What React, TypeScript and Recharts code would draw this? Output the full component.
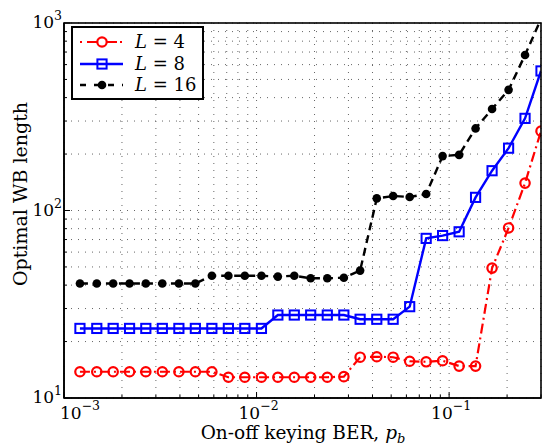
import React from 'react';
import { LineChart, Line, XAxis, YAxis, CartesianGrid } from 'recharts';

// On-off keying BER values (x)
const berValues = [
  0.00121, 0.00148, 0.0018, 0.00219, 0.00266, 0.00324, 0.00395, 0.00481, 0.00586,
  0.00714, 0.00869, 0.0106, 0.0129, 0.0157, 0.0191, 0.0233, 0.0284, 0.0345,
  0.0421, 0.0512, 0.0624, 0.076, 0.0925, 0.1127, 0.1372, 0.1671, 0.2036, 0.2479, 0.3,
];
// Optimal WB length, L = 4
const wbL4 = [
  13.8, 13.8, 13.8, 13.8, 13.8, 13.8, 13.8, 13.8, 13.8,
  12.9, 12.9, 12.9, 12.9, 12.9, 12.9, 12.9, 13.0,
  16.5, 16.6, 16.5, 15.7, 15.6, 15.8, 14.8, 14.8,
  49.3, 80.7, 140, 265,
];
// Optimal WB length, L = 8
const wbL8 = [
  23.5, 23.5, 23.5, 23.5, 23.5, 23.5, 23.5, 23.5, 23.5, 23.5, 23.5, 23.5,
  27.7, 27.7, 27.7, 27.7, 27.7,
  26.3, 26.3, 26.3,
  30.7, 71, 73.5, 77, 117.5, 163, 215, 310, 555,
];
// Optimal WB length, L = 16
const wbL16 = [
  40.8, 40.8, 40.8, 40.8, 40.8, 40.8, 40.8, 40.8,
  44.9, 44.9, 44.9, 44.9, 44.4, 44.9,
  43.5, 43.5, 43.8,
  47.8, 116, 119.5, 118, 122.5, 195, 198, 274, 348, 440, 675, 1050,
];

const xTicks = [
  0.001, 0.002, 0.003, 0.004, 0.005, 0.006, 0.007, 0.008, 0.009,
  0.01, 0.02, 0.03, 0.04, 0.05, 0.06, 0.07, 0.08, 0.09,
  0.1, 0.2, 0.3,
];
const yTicks = [
  10, 20, 30, 40, 50, 60, 70, 80, 90,
  100, 200, 300, 400, 500, 600, 700, 800, 900, 1000,
];

const seriesNames = ['L = 4', 'L = 8', 'L = 16'];

const rows = berValues.map((p, i) => ({ p, l4: wbL4[i], l8: wbL8[i], l16: wbL16[i] }));

const FONT = '"DejaVu Serif", serif';
const RED = '#ff0000';
const BLUE = '#0000ff';
const W = 543;
const H = 446;

const isMajor = (v: number) => Math.abs(Math.log10(v) - Math.round(Math.log10(v))) < 1e-6;
const expOf = (v: number) => Math.round(Math.log10(v));

const XTickBottom = (props: any) => {
  const { x, y, payload } = props;
  const v = payload.value;
  const major = isMajor(v);
  const len = major ? 6 : 3;
  const e = expOf(v);
  const dx = e === -3 ? -4 : -18;
  return (
    <g>
      <line x1={x} y1={y} x2={x} y2={y - len} stroke="#000" strokeWidth={1} />
      {major && (
        <text x={x + dx} y={y + 21} fontFamily={FONT} fontSize={17} fill="#000" textAnchor="start">
          10
          <tspan dy={-9} fontSize={12.5}>{'\u2212' + Math.abs(e)}</tspan>
        </text>
      )}
    </g>
  );
};

const XTickTop = (props: any) => {
  const { x, y, payload } = props;
  const len = isMajor(payload.value) ? 6 : 3;
  return <line x1={x} y1={y} x2={x} y2={y + len} stroke="#000" strokeWidth={1} />;
};

const YTickLeft = (props: any) => {
  const { x, y, payload } = props;
  const v = payload.value;
  const major = isMajor(v);
  const len = major ? 6 : 3;
  return (
    <g>
      <line x1={x} y1={y} x2={x + len} y2={y} stroke="#000" strokeWidth={1} />
      {major && (
        <text x={x - 2} y={y + 5} fontFamily={FONT} fontSize={17} fill="#000" textAnchor="end">
          10
          <tspan dy={-8} fontSize={12.5}>{String(expOf(v))}</tspan>
        </text>
      )}
    </g>
  );
};

const YTickRight = (props: any) => {
  const { x, y, payload } = props;
  const len = isMajor(payload.value) ? 6 : 3;
  return <line x1={x} y1={y} x2={x - len} y2={y} stroke="#000" strokeWidth={1} />;
};

const redDot = (props: any) => {
  const { cx, cy, index } = props;
  if (cx == null || cy == null) return <g key={`r${index}`} />;
  return <circle key={`r${index}`} cx={cx} cy={cy} r={4.7} fill="none" stroke={RED} strokeWidth={2.2} />;
};
const blueDot = (props: any) => {
  const { cx, cy, index } = props;
  if (cx == null || cy == null) return <g key={`b${index}`} />;
  return <rect key={`b${index}`} x={cx - 4.6} y={cy - 4.6} width={9.2} height={9.2} fill="none" stroke={BLUE} strokeWidth={2} />;
};
const blackDot = (props: any) => {
  const { cx, cy, index } = props;
  if (cx == null || cy == null) return <g key={`k${index}`} />;
  return <circle key={`k${index}`} cx={cx} cy={cy} r={4.3} fill="#000" stroke="none" />;
};

const Overlay = () => (
  <svg width={W} height={H} style={{ position: 'absolute', left: 0, top: 0, pointerEvents: 'none' }}>
    {/* axes box */}
    <rect x={64} y={23} width={477} height={375} fill="none" stroke="#000" strokeWidth={1.6} />
    <rect x={72} y={27} width={131} height={72} fill="#fff" stroke="#000" strokeWidth={2} />
    {/* L = 4 */}
    <line x1={80} y1={42} x2={123} y2={42} stroke={RED} strokeWidth={2.2} strokeDasharray="2 5 10 3" />
    <circle cx={102} cy={42} r={4.7} fill="#fff" stroke={RED} strokeWidth={2.2} />
    {/* L = 8 */}
    <line x1={80} y1={64} x2={123} y2={64} stroke={BLUE} strokeWidth={2.4} />
    <rect x={97.4} y={59.4} width={9.2} height={9.2} fill="none" stroke={BLUE} strokeWidth={2} />
    {/* L = 16 */}
    <line x1={80} y1={85} x2={123} y2={85} stroke="#000" strokeWidth={2.4} strokeDasharray="6 8 0 0 6 8" />
    <circle cx={102} cy={85} r={4.3} fill="#000" />
    {seriesNames.map((n, i) => {
      const [sym, ...rest] = n.split(' ');
      return (
        <text key={n} x={135} y={48 + i * 21.5} fontFamily={FONT} fontSize={18} fill="#000">
          <tspan fontStyle="italic">{sym}</tspan>
          {' ' + rest.join(' ')}
        </text>
      );
    })}
    {/* axis titles */}
    <text x={303} y={439} fontFamily={FONT} fontSize={18.5} fill="#000" textAnchor="middle">
      On-off keying BER,{' '}
      <tspan fontStyle="italic">p</tspan>
      <tspan fontStyle="italic" fontSize={13} dy={4}>b</tspan>
    </text>
    <text
      x={0}
      y={0}
      transform="translate(27,194) rotate(-90)"
      fontFamily={FONT}
      fontSize={19}
      fill="#000"
      textAnchor="middle"
    >
      Optimal WB length
    </text>
  </svg>
);

export default function App() {
  return (
    <div style={{ position: 'relative', width: W, height: H }}>
      <style>{'html,body{margin:0;padding:0;overflow:hidden;}'}</style>
      <LineChart width={W} height={H} data={rows} margin={{ top: 23, right: 2, bottom: 0, left: 0 }}>
        <CartesianGrid stroke="#666" strokeDasharray="1 6" strokeWidth={1} />
        <XAxis
          dataKey="p"
          type="number"
          scale="log"
          domain={[0.001, 0.3]}
          allowDataOverflow
          ticks={xTicks}
          interval={0}
          tickSize={0}
          tickMargin={0}
          height={48}
          axisLine={{ stroke: '#000', strokeWidth: 1.6 }}
          tickLine={false}
          tick={XTickBottom}
        />
        <XAxis
          xAxisId="top"
          orientation="top"
          dataKey="p"
          type="number"
          scale="log"
          domain={[0.001, 0.3]}
          allowDataOverflow
          ticks={xTicks}
          interval={0}
          tickSize={0}
          tickMargin={0}
          height={0}
          axisLine={{ stroke: '#000', strokeWidth: 1.6 }}
          tickLine={false}
          tick={XTickTop}
        />
        <YAxis
          type="number"
          scale="log"
          domain={[10, 1000]}
          allowDataOverflow
          ticks={yTicks}
          interval={0}
          tickSize={0}
          tickMargin={0}
          width={64}
          axisLine={{ stroke: '#000', strokeWidth: 1.6 }}
          tickLine={false}
          tick={YTickLeft}
        />
        <YAxis
          yAxisId="right"
          orientation="right"
          type="number"
          scale="log"
          domain={[10, 1000]}
          allowDataOverflow
          ticks={yTicks}
          interval={0}
          tickSize={0}
          tickMargin={0}
          width={0}
          axisLine={{ stroke: '#000', strokeWidth: 1.6 }}
          tickLine={false}
          tick={YTickRight}
        />
        <Line
          dataKey="l4"
          name={seriesNames[0]}
          stroke={RED}
          strokeWidth={2.2}
          strokeDasharray="10 4 2 4"
          dot={redDot}
          activeDot={false}
          isAnimationActive={false}
        />
        <Line
          dataKey="l8"
          name={seriesNames[1]}
          stroke={BLUE}
          strokeWidth={2.4}
          dot={blueDot}
          activeDot={false}
          isAnimationActive={false}
        />
        <Line
          dataKey="l16"
          name={seriesNames[2]}
          stroke="#000"
          strokeWidth={2.4}
          strokeDasharray="8 5"
          dot={blackDot}
          activeDot={false}
          isAnimationActive={false}
        />
      </LineChart>
      <Overlay />
    </div>
  );
}
